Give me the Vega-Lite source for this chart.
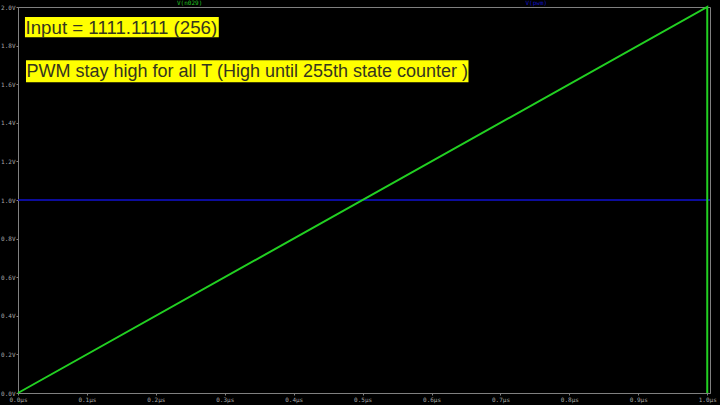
{
  "$schema": "https://vega.github.io/schema/vega-lite/v6.json",
  "width": 692,
  "height": 386,
  "autosize": {"type": "none"},
  "padding": {"left": 18, "top": 7, "right": 10, "bottom": 12},
  "background": "#000000",
  "config": {
    "view": {"stroke": "#808080", "strokeWidth": 1, "fill": "#000000"},
    "axis": {
      "domainColor": "#808080",
      "tickColor": "#808080",
      "tickSize": 2,
      "labelColor": "#a8a8a8",
      "labelFont": "DejaVu Sans Mono",
      "labelFontSize": 6,
      "labelOverlap": false,
      "grid": false,
      "title": null,
      "labelPadding": 1
    },
    "axisY": {"labelOverlap": false},
    "axisQuantitative": {"labelOverlap": false}
  },
  "datasets": {
    "green": [
      {"t": 0.0, "v": 0.0, "o": 1},
      {"t": 1.0, "v": 2.0, "o": 2},
      {"t": 1.0, "v": 0.0, "o": 3}
    ],
    "blue": [
      {"t": 0.0, "v": 1.0, "o": 1},
      {"t": 1.004, "v": 1.0, "o": 2}
    ],
    "boxes": [
      {"id": 1, "x1": 0.0101, "x2": 0.2913, "y1": 1.948, "y2": 1.843, "tx": 0.0109, "ty": 1.895, "label": "Input = 1111.1111 (256)"},
      {"id": 2, "x1": 0.0116, "x2": 0.6536, "y1": 1.724, "y2": 1.610, "tx": 0.0124, "ty": 1.667, "label": "PWM stay high for all T (High until 255th state counter )"}
    ],
    "titles": [
      {"t": 0.249, "v": 2.0, "label": "V(n029)", "c": "green"},
      {"t": 0.752, "v": 2.0, "label": "V(pwm)", "c": "blue"}
    ]
  },
  "encoding": {
    "x": {
      "field": "t", "type": "quantitative",
      "scale": {"domain": [0, 1.004], "nice": false, "zero": false},
      "axis": {"values": [0, 0.1, 0.2, 0.3, 0.4, 0.5, 0.6, 0.7, 0.8, 0.9, 1.0], "labelExpr": "format(datum.value, '.1f') + 'µs'", "labelFlush": false, "labelOverlap": false}
    },
    "y": {
      "field": "v", "type": "quantitative",
      "scale": {"domain": [0, 2.0], "nice": false},
      "axis": {"values": [0, 0.2, 0.4, 0.6, 0.8, 1.0, 1.2, 1.4, 1.6, 1.8, 2.0], "format": ".1f", "labelExpr": "datum.label + 'V'", "labelFlush": false, "labelOverlap": false, "labelBound": false}
    }
  },
  "layer": [
    {
      "data": {"name": "blue"},
      "mark": {"type": "line", "color": "#1010d0", "strokeWidth": 1.6},
      "encoding": {"order": {"field": "o"}}
    },
    {
      "data": {"name": "green"},
      "mark": {"type": "line", "color": "#22d022", "strokeWidth": 2},
      "encoding": {"order": {"field": "o"}}
    },
    {
      "data": {"name": "boxes"},
      "mark": {"type": "rect", "color": "#ffff00"},
      "encoding": {
        "x": {"field": "x1", "type": "quantitative"},
        "x2": {"field": "x2"},
        "y": {"field": "y1", "type": "quantitative"},
        "y2": {"field": "y2"}
      }
    },
    {
      "data": {"name": "boxes"},
      "transform": [{"filter": "datum.id == 1"}],
      "mark": {"type": "text", "align": "left", "baseline": "middle", "font": "Liberation Sans", "fontSize": 18.7, "color": "#35351f", "dy": 1},
      "encoding": {
        "x": {"field": "tx", "type": "quantitative"},
        "y": {"field": "ty", "type": "quantitative"},
        "text": {"field": "label"}
      }
    },
    {
      "data": {"name": "boxes"},
      "transform": [{"filter": "datum.id == 2"}],
      "mark": {"type": "text", "align": "left", "baseline": "middle", "font": "Liberation Sans", "fontSize": 18, "color": "#35351f", "dy": 1},
      "encoding": {
        "x": {"field": "tx", "type": "quantitative"},
        "y": {"field": "ty", "type": "quantitative"},
        "text": {"field": "label"}
      }
    },
    {
      "data": {"name": "titles"},
      "mark": {"type": "text", "align": "center", "baseline": "bottom", "font": "DejaVu Sans Mono", "fontSize": 6, "dy": -1},
      "encoding": {
        "text": {"field": "label"},
        "color": {"field": "c", "type": "nominal", "scale": {"domain": ["green", "blue"], "range": ["#22c022", "#1010c0"]}, "legend": null}
      }
    }
  ]
}
